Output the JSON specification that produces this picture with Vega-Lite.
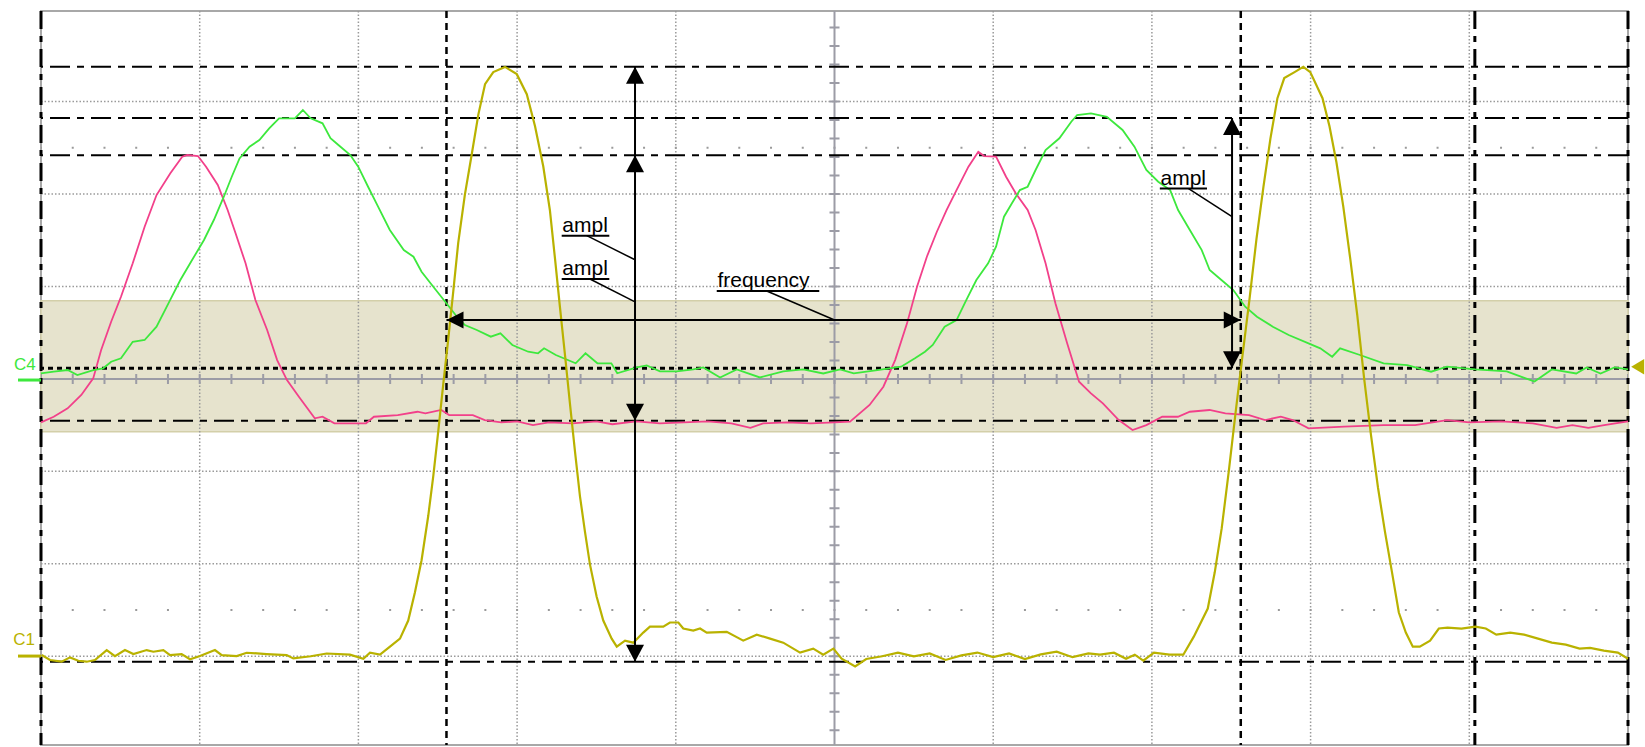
{
  "$schema": "https://vega.github.io/schema/vega-lite/v6.json",
  "autosize": {"type": "none"},
  "width": 1587,
  "height": 734,
  "padding": {"left": 41, "top": 11, "right": 17, "bottom": 2},
  "background": "white",
  "config": {"view": {"stroke": "#a8a8a8", "strokeWidth": 2}},
  "datasets": {
    "band": [{"x": 0, "x2": 10, "y": -0.571, "y2": 0.846}],
    "gx": [{"x": 1}, {"x": 2}, {"x": 3}, {"x": 4}, {"x": 6}, {"x": 7}, {"x": 8}, {"x": 9}],
    "gy": [{"y": -3}, {"y": -2}, {"y": -1}, {"y": 1}, {"y": 2}, {"y": 3}],
    "dotrows": [{"x": 0, "x2": 10, "y": 2.5, "y2": 2.5}, {"x": 0, "x2": 10, "y": -2.5, "y2": -2.5}],
    "haxis": [{"x": 0, "x2": 10, "y": 0, "y2": 0}],
    "vaxis": [{"x": 5, "x2": 5, "y": 0, "y2": 3.98}, {"x": 5, "x2": 5, "y": 0, "y2": -3.96}],
    "vaxisline": [{"x": 5}],
    "haxisline": [{"y": 0}],
    "hcurdd": [{"y": 3.377}, {"y": 2.822}, {"y": 2.419}, {"y": -0.452}, {"y": -3.059}],
    "hcurdot": [{"y": 0.115}],
    "vcurdd": [{"x": 0}, {"x": 9.035}, {"x": 10}],
    "vcurdot": [{"x": 2.555}, {"x": 7.56}],
    "pink": [
      {"x": 0, "y": -0.47}, {"x": 0.08, "y": -0.409}, {"x": 0.168, "y": -0.318}, {"x": 0.254, "y": -0.174}, {"x": 0.329, "y": 0.006}, {"x": 0.379, "y": 0.313}, {"x": 0.442, "y": 0.619}, {"x": 0.504, "y": 0.889}, {"x": 0.578, "y": 1.251}, {"x": 0.653, "y": 1.646}, {"x": 0.728, "y": 1.989}, {"x": 0.815, "y": 2.224}, {"x": 0.89, "y": 2.404}, {"x": 0.922, "y": 2.422}, {"x": 0.989, "y": 2.411}, {"x": 1.04, "y": 2.296}, {"x": 1.114, "y": 2.098}, {"x": 1.176, "y": 1.828}, {"x": 1.226, "y": 1.575}, {"x": 1.289, "y": 1.251}, {"x": 1.351, "y": 0.854}, {"x": 1.425, "y": 0.529}, {"x": 1.488, "y": 0.204}, {"x": 1.55, "y": -0.012}, {"x": 1.625, "y": -0.193}, {"x": 1.725, "y": -0.426}, {"x": 1.774, "y": -0.409}, {"x": 1.849, "y": -0.48}, {"x": 2.048, "y": -0.48}, {"x": 2.098, "y": -0.409}, {"x": 2.248, "y": -0.391}, {"x": 2.372, "y": -0.355}, {"x": 2.422, "y": -0.372}, {"x": 2.522, "y": -0.336}, {"x": 2.572, "y": -0.391}, {"x": 2.721, "y": -0.391}, {"x": 2.796, "y": -0.445}, {"x": 2.9, "y": -0.47}, {"x": 3.0, "y": -0.46}, {"x": 3.1, "y": -0.5}, {"x": 3.2, "y": -0.47}, {"x": 3.35, "y": -0.48}, {"x": 3.5, "y": -0.46}, {"x": 3.6, "y": -0.49}, {"x": 3.75, "y": -0.46}, {"x": 3.9, "y": -0.48}, {"x": 4.05, "y": -0.47}, {"x": 4.2, "y": -0.46}, {"x": 4.35, "y": -0.48}, {"x": 4.47, "y": -0.53}, {"x": 4.55, "y": -0.48}, {"x": 4.7, "y": -0.47}, {"x": 4.85, "y": -0.48}, {"x": 5.0, "y": -0.47}, {"x": 5.098, "y": -0.463}, {"x": 5.221, "y": -0.282}, {"x": 5.308, "y": -0.084}, {"x": 5.382, "y": 0.204}, {"x": 5.457, "y": 0.601}, {"x": 5.52, "y": 0.997}, {"x": 5.582, "y": 1.322}, {"x": 5.645, "y": 1.592}, {"x": 5.706, "y": 1.827}, {"x": 5.769, "y": 2.043}, {"x": 5.844, "y": 2.296}, {"x": 5.906, "y": 2.458}, {"x": 5.943, "y": 2.411}, {"x": 6.018, "y": 2.404}, {"x": 6.081, "y": 2.187}, {"x": 6.142, "y": 2.008}, {"x": 6.217, "y": 1.827}, {"x": 6.267, "y": 1.611}, {"x": 6.33, "y": 1.251}, {"x": 6.392, "y": 0.818}, {"x": 6.466, "y": 0.385}, {"x": 6.541, "y": -0.03}, {"x": 6.616, "y": -0.156}, {"x": 6.691, "y": -0.264}, {"x": 6.791, "y": -0.445}, {"x": 6.878, "y": -0.553}, {"x": 6.965, "y": -0.499}, {"x": 7.065, "y": -0.409}, {"x": 7.164, "y": -0.409}, {"x": 7.239, "y": -0.355}, {"x": 7.363, "y": -0.336}, {"x": 7.463, "y": -0.372}, {"x": 7.612, "y": -0.391}, {"x": 7.713, "y": -0.445}, {"x": 7.812, "y": -0.409}, {"x": 7.887, "y": -0.445}, {"x": 7.987, "y": -0.534}, {"x": 8.211, "y": -0.517}, {"x": 8.46, "y": -0.499}, {"x": 8.659, "y": -0.499}, {"x": 8.859, "y": -0.445}, {"x": 9.0, "y": -0.47}, {"x": 9.2, "y": -0.46}, {"x": 9.4, "y": -0.48}, {"x": 9.55, "y": -0.53}, {"x": 9.65, "y": -0.5}, {"x": 9.75, "y": -0.53}, {"x": 9.85, "y": -0.5}, {"x": 10.0, "y": -0.46}
    ],
    "green": [
      {"x": 0, "y": 0.061}, {"x": 0.08, "y": 0.078}, {"x": 0.168, "y": 0.096}, {"x": 0.229, "y": 0.042}, {"x": 0.33, "y": 0.096}, {"x": 0.392, "y": 0.115}, {"x": 0.442, "y": 0.186}, {"x": 0.504, "y": 0.223}, {"x": 0.578, "y": 0.402}, {"x": 0.653, "y": 0.421}, {"x": 0.728, "y": 0.565}, {"x": 0.803, "y": 0.818}, {"x": 0.878, "y": 1.07}, {"x": 0.952, "y": 1.286}, {"x": 1.027, "y": 1.503}, {"x": 1.089, "y": 1.719}, {"x": 1.152, "y": 1.971}, {"x": 1.202, "y": 2.187}, {"x": 1.251, "y": 2.386}, {"x": 1.314, "y": 2.512}, {"x": 1.376, "y": 2.584}, {"x": 1.438, "y": 2.711}, {"x": 1.5, "y": 2.819}, {"x": 1.6, "y": 2.819}, {"x": 1.65, "y": 2.909}, {"x": 1.699, "y": 2.819}, {"x": 1.774, "y": 2.765}, {"x": 1.824, "y": 2.603}, {"x": 1.874, "y": 2.53}, {"x": 1.949, "y": 2.422}, {"x": 1.999, "y": 2.296}, {"x": 2.061, "y": 2.079}, {"x": 2.124, "y": 1.863}, {"x": 2.198, "y": 1.611}, {"x": 2.286, "y": 1.394}, {"x": 2.347, "y": 1.322}, {"x": 2.398, "y": 1.16}, {"x": 2.472, "y": 0.997}, {"x": 2.547, "y": 0.835}, {"x": 2.621, "y": 0.673}, {"x": 2.671, "y": 0.583}, {"x": 2.746, "y": 0.529}, {"x": 2.834, "y": 0.457}, {"x": 2.895, "y": 0.493}, {"x": 2.97, "y": 0.367}, {"x": 3.07, "y": 0.294}, {"x": 3.132, "y": 0.277}, {"x": 3.17, "y": 0.331}, {"x": 3.244, "y": 0.259}, {"x": 3.369, "y": 0.169}, {"x": 3.431, "y": 0.277}, {"x": 3.506, "y": 0.169}, {"x": 3.594, "y": 0.169}, {"x": 3.631, "y": 0.061}, {"x": 3.754, "y": 0.124}, {"x": 3.817, "y": 0.146}, {"x": 3.9, "y": 0.081}, {"x": 4.006, "y": 0.081}, {"x": 4.11, "y": 0.103}, {"x": 4.173, "y": 0.124}, {"x": 4.279, "y": 0.016}, {"x": 4.384, "y": 0.103}, {"x": 4.53, "y": 0.016}, {"x": 4.677, "y": 0.081}, {"x": 4.803, "y": 0.103}, {"x": 4.929, "y": 0.059}, {"x": 5.035, "y": 0.103}, {"x": 5.121, "y": 0.061}, {"x": 5.27, "y": 0.096}, {"x": 5.42, "y": 0.132}, {"x": 5.507, "y": 0.223}, {"x": 5.57, "y": 0.294}, {"x": 5.619, "y": 0.367}, {"x": 5.694, "y": 0.565}, {"x": 5.769, "y": 0.637}, {"x": 5.831, "y": 0.854}, {"x": 5.894, "y": 1.07}, {"x": 5.968, "y": 1.251}, {"x": 6.018, "y": 1.43}, {"x": 6.068, "y": 1.755}, {"x": 6.118, "y": 1.9}, {"x": 6.168, "y": 2.043}, {"x": 6.217, "y": 2.079}, {"x": 6.267, "y": 2.26}, {"x": 6.33, "y": 2.476}, {"x": 6.417, "y": 2.603}, {"x": 6.492, "y": 2.782}, {"x": 6.529, "y": 2.855}, {"x": 6.616, "y": 2.873}, {"x": 6.716, "y": 2.836}, {"x": 6.815, "y": 2.693}, {"x": 6.89, "y": 2.512}, {"x": 6.965, "y": 2.26}, {"x": 7.04, "y": 2.133}, {"x": 7.115, "y": 2.043}, {"x": 7.165, "y": 1.827}, {"x": 7.239, "y": 1.611}, {"x": 7.314, "y": 1.394}, {"x": 7.364, "y": 1.178}, {"x": 7.438, "y": 1.07}, {"x": 7.513, "y": 0.962}, {"x": 7.588, "y": 0.781}, {"x": 7.662, "y": 0.673}, {"x": 7.762, "y": 0.565}, {"x": 7.862, "y": 0.475}, {"x": 7.987, "y": 0.385}, {"x": 8.061, "y": 0.331}, {"x": 8.136, "y": 0.24}, {"x": 8.186, "y": 0.331}, {"x": 8.311, "y": 0.259}, {"x": 8.46, "y": 0.169}, {"x": 8.609, "y": 0.15}, {"x": 8.759, "y": 0.078}, {"x": 8.859, "y": 0.132}, {"x": 9.038, "y": 0.103}, {"x": 9.236, "y": 0.081}, {"x": 9.411, "y": -0.028}, {"x": 9.52, "y": 0.103}, {"x": 9.674, "y": 0.059}, {"x": 9.739, "y": 0.124}, {"x": 9.827, "y": 0.059}, {"x": 9.915, "y": 0.124}, {"x": 10, "y": 0.103}
    ],
    "yellow": [
      {"x": 0.004, "y": -2.987}, {"x": 0.057, "y": -3.041}, {"x": 0.13, "y": -3.059}, {"x": 0.183, "y": -3.012}, {"x": 0.235, "y": -3.049}, {"x": 0.288, "y": -3.059}, {"x": 0.34, "y": -3.041}, {"x": 0.414, "y": -2.933}, {"x": 0.466, "y": -2.998}, {"x": 0.529, "y": -2.933}, {"x": 0.582, "y": -2.976}, {"x": 0.666, "y": -2.933}, {"x": 0.708, "y": -2.951}, {"x": 0.771, "y": -2.933}, {"x": 0.813, "y": -2.987}, {"x": 0.886, "y": -2.976}, {"x": 0.939, "y": -3.033}, {"x": 1.002, "y": -2.998}, {"x": 1.096, "y": -2.933}, {"x": 1.139, "y": -2.987}, {"x": 1.233, "y": -2.998}, {"x": 1.296, "y": -2.962}, {"x": 1.422, "y": -2.976}, {"x": 1.548, "y": -2.987}, {"x": 1.59, "y": -3.023}, {"x": 1.7, "y": -3.0}, {"x": 1.8, "y": -2.97}, {"x": 1.947, "y": -2.983}, {"x": 2.031, "y": -3.027}, {"x": 2.073, "y": -2.961}, {"x": 2.136, "y": -2.983}, {"x": 2.199, "y": -2.896}, {"x": 2.262, "y": -2.809}, {"x": 2.314, "y": -2.614}, {"x": 2.356, "y": -2.31}, {"x": 2.398, "y": -1.961}, {"x": 2.44, "y": -1.483}, {"x": 2.472, "y": -1.049}, {"x": 2.503, "y": -0.571}, {"x": 2.535, "y": -0.05}, {"x": 2.566, "y": 0.428}, {"x": 2.598, "y": 0.95}, {"x": 2.629, "y": 1.472}, {"x": 2.671, "y": 1.994}, {"x": 2.714, "y": 2.428}, {"x": 2.756, "y": 2.862}, {"x": 2.798, "y": 3.188}, {"x": 2.85, "y": 3.319}, {"x": 2.924, "y": 3.375}, {"x": 2.998, "y": 3.297}, {"x": 3.061, "y": 3.08}, {"x": 3.113, "y": 2.733}, {"x": 3.165, "y": 2.298}, {"x": 3.207, "y": 1.82}, {"x": 3.239, "y": 1.298}, {"x": 3.27, "y": 0.777}, {"x": 3.302, "y": 0.255}, {"x": 3.333, "y": -0.267}, {"x": 3.365, "y": -0.789}, {"x": 3.396, "y": -1.267}, {"x": 3.428, "y": -1.657}, {"x": 3.459, "y": -2.006}, {"x": 3.501, "y": -2.353}, {"x": 3.543, "y": -2.614}, {"x": 3.596, "y": -2.809}, {"x": 3.628, "y": -2.896}, {"x": 3.68, "y": -2.831}, {"x": 3.732, "y": -2.853}, {"x": 3.795, "y": -2.744}, {"x": 3.837, "y": -2.679}, {"x": 3.921, "y": -2.679}, {"x": 3.963, "y": -2.635}, {"x": 4.016, "y": -2.635}, {"x": 4.047, "y": -2.7}, {"x": 4.11, "y": -2.722}, {"x": 4.153, "y": -2.7}, {"x": 4.195, "y": -2.744}, {"x": 4.321, "y": -2.736}, {"x": 4.425, "y": -2.831}, {"x": 4.51, "y": -2.766}, {"x": 4.594, "y": -2.809}, {"x": 4.677, "y": -2.853}, {"x": 4.783, "y": -2.961}, {"x": 4.866, "y": -2.918}, {"x": 4.929, "y": -2.983}, {"x": 4.993, "y": -2.918}, {"x": 5.045, "y": -3.027}, {"x": 5.13, "y": -3.11}, {"x": 5.2, "y": -3.03}, {"x": 5.3, "y": -3.0}, {"x": 5.4, "y": -2.96}, {"x": 5.5, "y": -3.0}, {"x": 5.6, "y": -2.97}, {"x": 5.7, "y": -3.04}, {"x": 5.8, "y": -2.99}, {"x": 5.9, "y": -2.96}, {"x": 6.0, "y": -3.01}, {"x": 6.1, "y": -2.97}, {"x": 6.2, "y": -3.03}, {"x": 6.3, "y": -2.98}, {"x": 6.4, "y": -2.95}, {"x": 6.5, "y": -3.01}, {"x": 6.6, "y": -2.97}, {"x": 6.673, "y": -2.983}, {"x": 6.761, "y": -2.961}, {"x": 6.837, "y": -3.027}, {"x": 6.892, "y": -2.983}, {"x": 6.946, "y": -3.048}, {"x": 7.013, "y": -2.961}, {"x": 7.111, "y": -2.983}, {"x": 7.198, "y": -2.983}, {"x": 7.264, "y": -2.788}, {"x": 7.352, "y": -2.484}, {"x": 7.396, "y": -2.092}, {"x": 7.44, "y": -1.614}, {"x": 7.484, "y": -1.006}, {"x": 7.528, "y": -0.354}, {"x": 7.571, "y": 0.254}, {"x": 7.615, "y": 0.863}, {"x": 7.659, "y": 1.515}, {"x": 7.703, "y": 2.08}, {"x": 7.747, "y": 2.602}, {"x": 7.791, "y": 3.037}, {"x": 7.834, "y": 3.254}, {"x": 7.899, "y": 3.319}, {"x": 7.954, "y": 3.375}, {"x": 7.998, "y": 3.319}, {"x": 8.075, "y": 3.037}, {"x": 8.119, "y": 2.733}, {"x": 8.163, "y": 2.341}, {"x": 8.206, "y": 1.863}, {"x": 8.25, "y": 1.298}, {"x": 8.294, "y": 0.689}, {"x": 8.338, "y": -0.006}, {"x": 8.381, "y": -0.614}, {"x": 8.425, "y": -1.18}, {"x": 8.469, "y": -1.657}, {"x": 8.513, "y": -2.092}, {"x": 8.556, "y": -2.527}, {"x": 8.6, "y": -2.744}, {"x": 8.644, "y": -2.896}, {"x": 8.688, "y": -2.896}, {"x": 8.753, "y": -2.831}, {"x": 8.808, "y": -2.7}, {"x": 8.863, "y": -2.691}, {"x": 8.951, "y": -2.7}, {"x": 9.038, "y": -2.679}, {"x": 9.104, "y": -2.7}, {"x": 9.17, "y": -2.766}, {"x": 9.258, "y": -2.744}, {"x": 9.345, "y": -2.766}, {"x": 9.433, "y": -2.809}, {"x": 9.52, "y": -2.853}, {"x": 9.608, "y": -2.874}, {"x": 9.695, "y": -2.918}, {"x": 9.761, "y": -2.909}, {"x": 9.848, "y": -2.939}, {"x": 9.936, "y": -2.961}, {"x": 10, "y": -3.027}
    ],
    "shafts": [
      {"x": 3.743, "y": 3.377, "x2": 3.743, "y2": -3.059},
      {"x": 7.505, "y": 2.822, "x2": 7.505, "y2": 0.115},
      {"x": 2.555, "y": 0.637, "x2": 7.56, "y2": 0.637}
    ],
    "underlines": [
      {"x": 3.281, "y": 1.55, "x2": 3.581, "y2": 1.55},
      {"x": 3.281, "y": 1.081, "x2": 3.581, "y2": 1.081},
      {"x": 4.258, "y": 0.951, "x2": 4.904, "y2": 0.951},
      {"x": 7.05, "y": 2.059, "x2": 7.347, "y2": 2.059}
    ],
    "leaders": [
      {"x": 3.439, "y": 1.55, "x2": 3.743, "y2": 1.289},
      {"x": 3.459, "y": 1.081, "x2": 3.743, "y2": 0.833},
      {"x": 4.573, "y": 0.951, "x2": 5.0, "y2": 0.637},
      {"x": 7.231, "y": 2.059, "x2": 7.505, "y2": 1.755}
    ],
    "heads": [
      {"x": 3.743, "y": 3.377, "d": "up"},
      {"x": 3.743, "y": 2.419, "d": "up"},
      {"x": 3.743, "y": -0.452, "d": "down"},
      {"x": 3.743, "y": -3.059, "d": "down"},
      {"x": 7.505, "y": 2.822, "d": "up"},
      {"x": 7.505, "y": 0.115, "d": "down"},
      {"x": 2.555, "y": 0.637, "d": "left"},
      {"x": 7.56, "y": 0.637, "d": "right"}
    ],
    "labels": [
      {"x": 3.285, "y": 1.55, "t": "ampl"},
      {"x": 3.285, "y": 1.081, "t": "ampl"},
      {"x": 4.262, "y": 0.951, "t": "frequency"},
      {"x": 7.054, "y": 2.059, "t": "ampl"}
    ],
    "chlabels": [
      {"x": -0.17, "y": 0.096, "c": "C4"},
      {"x": -0.175, "y": -2.879, "c": "C1"}
    ],
    "chmarks": [
      {"x": -0.145, "x2": 0, "y": -0.012, "y2": -0.012, "c": "C4"},
      {"x": -0.145, "x2": 0, "y": -2.998, "y2": -2.998, "c": "C1"}
    ],
    "trig": [{"x": 10.02, "y": 0.132}]
  },
  "layer": [
    {
      "data": {"name": "band"},
      "mark": {"type": "rect", "fill": "#e6e3cd", "stroke": "#d3cfa9", "strokeWidth": 1.5},
      "encoding": {
        "x": {"field": "x", "type": "quantitative", "scale": {"domain": [0, 10], "nice": false, "zero": false}, "axis": null},
        "x2": {"field": "x2"},
        "y": {"field": "y", "type": "quantitative", "scale": {"domain": [-3.96, 3.98], "nice": false, "zero": false}, "axis": null},
        "y2": {"field": "y2"}
      }
    },
    {
      "data": {"name": "gx"},
      "mark": {"type": "rule", "color": "#9a9a9a", "strokeWidth": 1.5, "strokeDash": [1.5, 2]},
      "encoding": {"x": {"field": "x", "type": "quantitative", "axis": null}}
    },
    {
      "data": {"name": "gy"},
      "mark": {"type": "rule", "color": "#9a9a9a", "strokeWidth": 1.5, "strokeDash": [1.5, 2]},
      "encoding": {"y": {"field": "y", "type": "quantitative", "axis": null}}
    },
    {
      "data": {"name": "dotrows"},
      "mark": {"type": "rule", "color": "#9a9a9a", "strokeWidth": 2, "strokeDash": [2, 29.74], "strokeDashOffset": 1},
      "encoding": {
        "x": {"field": "x", "type": "quantitative", "axis": null}, "x2": {"field": "x2"},
        "y": {"field": "y", "type": "quantitative", "axis": null}, "y2": {"field": "y2"}
      }
    },
    {
      "data": {"name": "vaxisline"},
      "mark": {"type": "rule", "color": "#9c9ca6", "strokeWidth": 2},
      "encoding": {"x": {"field": "x", "type": "quantitative", "axis": null}}
    },
    {
      "data": {"name": "haxisline"},
      "mark": {"type": "rule", "color": "#9c9ca6", "strokeWidth": 2},
      "encoding": {"y": {"field": "y", "type": "quantitative", "axis": null}}
    },
    {
      "data": {"name": "haxis"},
      "mark": {"type": "rule", "color": "#9c9ca6", "strokeWidth": 10, "strokeDash": [2, 29.74], "strokeDashOffset": 1},
      "encoding": {
        "x": {"field": "x", "type": "quantitative", "axis": null}, "x2": {"field": "x2"},
        "y": {"field": "y", "type": "quantitative", "axis": null}, "y2": {"field": "y2"}
      }
    },
    {
      "data": {"name": "vaxis"},
      "mark": {"type": "rule", "color": "#9c9ca6", "strokeWidth": 10, "strokeDash": [2, 16.49], "strokeDashOffset": 1},
      "encoding": {
        "x": {"field": "x", "type": "quantitative", "axis": null}, "x2": {"field": "x2"},
        "y": {"field": "y", "type": "quantitative", "axis": null}, "y2": {"field": "y2"}
      }
    },
    {
      "data": {"name": "hcurdd"},
      "mark": {"type": "rule", "color": "#000000", "strokeWidth": 2, "strokeDash": [20, 7, 7, 7]},
      "encoding": {"y": {"field": "y", "type": "quantitative", "axis": null}}
    },
    {
      "data": {"name": "hcurdot"},
      "mark": {"type": "rule", "color": "#000000", "strokeWidth": 3, "strokeDash": [5, 4]},
      "encoding": {"y": {"field": "y", "type": "quantitative", "axis": null}}
    },
    {
      "data": {"name": "vcurdd"},
      "mark": {"type": "rule", "color": "#000000", "strokeWidth": 3, "strokeDash": [18, 7, 6, 7]},
      "encoding": {"x": {"field": "x", "type": "quantitative", "axis": null}}
    },
    {
      "data": {"name": "vcurdot"},
      "mark": {"type": "rule", "color": "#000000", "strokeWidth": 2.5, "strokeDash": [7, 5]},
      "encoding": {"x": {"field": "x", "type": "quantitative", "axis": null}}
    },
    {
      "data": {"name": "pink"},
      "mark": {"type": "line", "color": "#f2408a", "strokeWidth": 1.8},
      "encoding": {
        "x": {"field": "x", "type": "quantitative", "axis": null},
        "y": {"field": "y", "type": "quantitative", "axis": null},
        "order": {"field": "x", "type": "quantitative"}
      }
    },
    {
      "data": {"name": "green"},
      "mark": {"type": "line", "color": "#3de83d", "strokeWidth": 1.8},
      "encoding": {
        "x": {"field": "x", "type": "quantitative", "axis": null},
        "y": {"field": "y", "type": "quantitative", "axis": null},
        "order": {"field": "x", "type": "quantitative"}
      }
    },
    {
      "data": {"name": "yellow"},
      "mark": {"type": "line", "color": "#b9b200", "strokeWidth": 2.2},
      "encoding": {
        "x": {"field": "x", "type": "quantitative", "axis": null},
        "y": {"field": "y", "type": "quantitative", "axis": null},
        "order": {"field": "x", "type": "quantitative"}
      }
    },
    {
      "data": {"name": "shafts"},
      "mark": {"type": "rule", "color": "#000000", "strokeWidth": 2},
      "encoding": {
        "x": {"field": "x", "type": "quantitative", "axis": null}, "x2": {"field": "x2"},
        "y": {"field": "y", "type": "quantitative", "axis": null}, "y2": {"field": "y2"}
      }
    },
    {
      "data": {"name": "underlines"},
      "mark": {"type": "rule", "color": "#000000", "strokeWidth": 2},
      "encoding": {
        "x": {"field": "x", "type": "quantitative", "axis": null}, "x2": {"field": "x2"},
        "y": {"field": "y", "type": "quantitative", "axis": null}, "y2": {"field": "y2"}
      }
    },
    {
      "data": {"name": "leaders"},
      "mark": {"type": "rule", "color": "#000000", "strokeWidth": 1.5},
      "encoding": {
        "x": {"field": "x", "type": "quantitative", "axis": null}, "x2": {"field": "x2"},
        "y": {"field": "y", "type": "quantitative", "axis": null}, "y2": {"field": "y2"}
      }
    },
    {
      "data": {"name": "heads"},
      "mark": {"type": "point", "filled": true, "color": "#000000", "opacity": 1, "size": 1156, "strokeWidth": 0},
      "encoding": {
        "x": {"field": "x", "type": "quantitative", "axis": null},
        "y": {"field": "y", "type": "quantitative", "axis": null},
        "shape": {"field": "d", "type": "nominal", "legend": null,
          "scale": {"domain": ["up", "down", "left", "right"],
            "range": ["M0,0L-0.53,1L0.53,1Z", "M0,0L-0.53,-1L0.53,-1Z", "M0,0L1,-0.5L1,0.5Z", "M0,0L-1,-0.5L-1,0.5Z"]}}
      }
    },
    {
      "data": {"name": "labels"},
      "mark": {"type": "text", "align": "left", "baseline": "alphabetic", "dy": -4, "font": "Liberation Sans", "fontSize": 21, "color": "#000000"},
      "encoding": {
        "x": {"field": "x", "type": "quantitative", "axis": null},
        "y": {"field": "y", "type": "quantitative", "axis": null},
        "text": {"field": "t"}
      }
    },
    {
      "data": {"name": "chmarks"},
      "mark": {"type": "rule", "strokeWidth": 3},
      "encoding": {
        "x": {"field": "x", "type": "quantitative", "axis": null}, "x2": {"field": "x2"},
        "y": {"field": "y", "type": "quantitative", "axis": null}, "y2": {"field": "y2"},
        "color": {"field": "c", "type": "nominal", "legend": null, "scale": {"domain": ["C4", "C1"], "range": ["#3de83d", "#b9b200"]}}
      }
    },
    {
      "data": {"name": "chlabels"},
      "mark": {"type": "text", "align": "left", "baseline": "alphabetic", "font": "Liberation Sans", "fontSize": 17},
      "encoding": {
        "x": {"field": "x", "type": "quantitative", "axis": null},
        "y": {"field": "y", "type": "quantitative", "axis": null},
        "text": {"field": "c"},
        "color": {"field": "c", "type": "nominal", "legend": null, "scale": {"domain": ["C4", "C1"], "range": ["#3de83d", "#b9b200"]}}
      }
    },
    {
      "data": {"name": "trig"},
      "mark": {"type": "point", "filled": true, "color": "#b9b200", "opacity": 1, "size": 676, "strokeWidth": 0, "shape": "M0,0L1,-0.6L1,0.6Z"},
      "encoding": {
        "x": {"field": "x", "type": "quantitative", "axis": null},
        "y": {"field": "y", "type": "quantitative", "axis": null}
      }
    }
  ]
}
